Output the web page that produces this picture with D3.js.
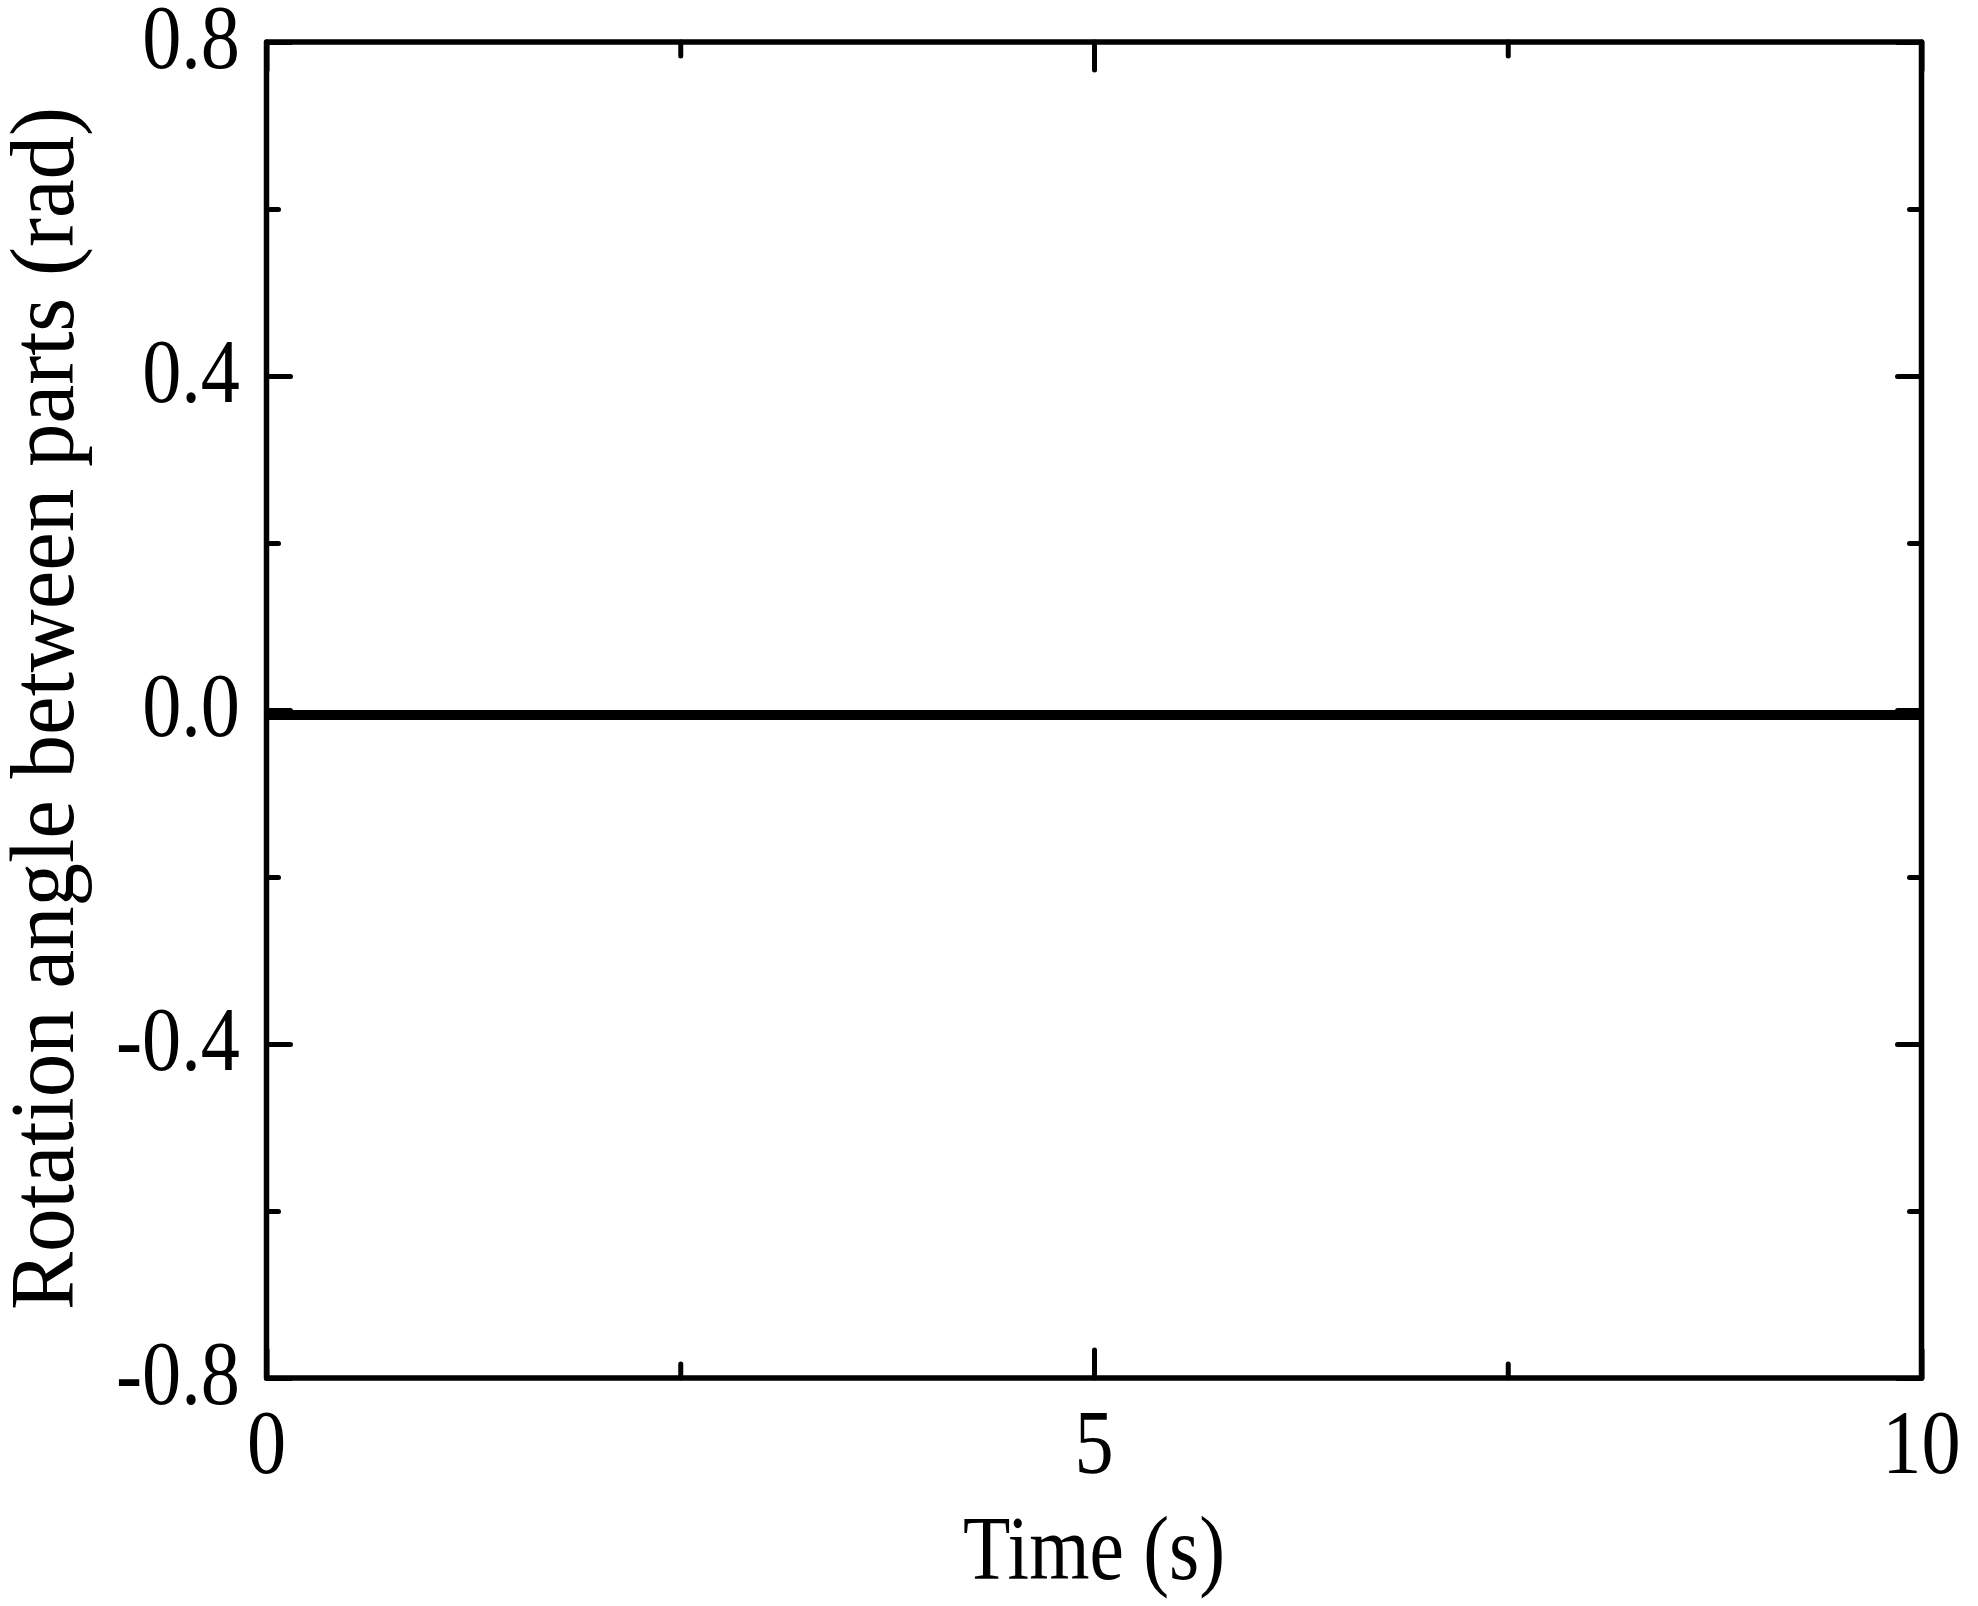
<!DOCTYPE html>
<html>
<head>
<meta charset="utf-8">
<script src="https://cdn.jsdelivr.net/npm/d3@7"></script>
<style>
  html, body { margin: 0; padding: 0; background: #fff; }
  svg { display: block; }
  text { font-family: "Liberation Serif", "Times New Roman", serif; fill: #000; }
</style>
</head>
<body>
<svg id="chart" width="1978" height="1606"></svg>
<script>
// ---- data ----
const timeValues = [0, 1, 2, 3, 4, 5, 6, 7, 8, 9, 10];
const angleValues = [-0.006, -0.006, -0.006, -0.006, -0.006, -0.006, -0.006, -0.006, -0.006, -0.006, -0.006];
const xMajorTicks = [0, 5, 10];
const xMinorTicks = [2.5, 7.5];
const yMajorTicks = [-0.8, -0.4, 0.0, 0.4, 0.8];
const yMinorTicks = [-0.6, -0.2, 0.2, 0.6];
const yTickLabels = ["-0.8", "-0.4", "0.0", "0.4", "0.8"];
const xTickLabels = ["0", "5", "10"];
const xTitle = "Time (s)";
const yTitle = "Rotation angle between parts (rad)";

// ---- layout ----
const L = 266.5, R = 1921.5, T = 42, B = 1378;
const svg = d3.select("#chart");
const x = d3.scaleLinear().domain([0, 10]).range([L, R]);
const y = d3.scaleLinear().domain([-0.8, 0.8]).range([B, T]);
const axisW = 5.5;
const condense = 0.87;
const fontSize = 90;

function squeeze(sel, factor) {
  sel.each(function() {
    const len = this.getComputedTextLength();
    d3.select(this).attr("textLength", len * factor).attr("lengthAdjust", "spacingAndGlyphs");
  });
}

// data line
const line = d3.line().x((d, i) => x(timeValues[i])).y(d => y(d));
svg.append("path")
  .datum(angleValues)
  .attr("d", line)
  .attr("fill", "none")
  .attr("stroke", "#000")
  .attr("stroke-width", 10);

// axes with inward ticks via d3 axis generators
function styleAxis(g) {
  g.select(".domain").remove();
  g.selectAll(".tick line").attr("stroke", "#000").attr("stroke-width", 5).attr("stroke-linecap", "round");
  g.selectAll(".tick text").remove();
}
// bottom
svg.append("g").attr("transform", `translate(0,${B})`)
  .call(d3.axisBottom(x).tickValues(xMajorTicks).tickSizeInner(-28).tickSizeOuter(0)).call(styleAxis);
svg.append("g").attr("transform", `translate(0,${B})`)
  .call(d3.axisBottom(x).tickValues(xMinorTicks).tickSizeInner(-14).tickSizeOuter(0)).call(styleAxis);
// top
svg.append("g").attr("transform", `translate(0,${T})`)
  .call(d3.axisTop(x).tickValues(xMajorTicks).tickSizeInner(-28).tickSizeOuter(0)).call(styleAxis);
svg.append("g").attr("transform", `translate(0,${T})`)
  .call(d3.axisTop(x).tickValues(xMinorTicks).tickSizeInner(-14).tickSizeOuter(0)).call(styleAxis);
// left
svg.append("g").attr("transform", `translate(${L},0)`)
  .call(d3.axisLeft(y).tickValues(yMajorTicks).tickSizeInner(-24).tickSizeOuter(0)).call(styleAxis);
svg.append("g").attr("transform", `translate(${L},0)`)
  .call(d3.axisLeft(y).tickValues(yMinorTicks).tickSizeInner(-12).tickSizeOuter(0)).call(styleAxis);
// right
svg.append("g").attr("transform", `translate(${R},0)`)
  .call(d3.axisRight(y).tickValues(yMajorTicks).tickSizeInner(-24).tickSizeOuter(0)).call(styleAxis);
svg.append("g").attr("transform", `translate(${R},0)`)
  .call(d3.axisRight(y).tickValues(yMinorTicks).tickSizeInner(-12).tickSizeOuter(0)).call(styleAxis);

// frame
svg.append("rect")
  .attr("x", L).attr("y", T).attr("width", R - L).attr("height", B - T)
  .attr("fill", "none").attr("stroke", "#000").attr("stroke-width", axisW)
  .attr("stroke-linejoin", "round");

// tick labels
svg.append("g").selectAll("text").data(yMajorTicks).join("text")
  .attr("x", 240).attr("y", d => y(d) + 26)
  .attr("text-anchor", "end").attr("font-size", fontSize)
  .text((d, i) => yTickLabels[i])
  .call(squeeze, condense);

svg.append("g").selectAll("text").data(xMajorTicks).join("text")
  .attr("x", d => x(d)).attr("y", 1473)
  .attr("text-anchor", "middle").attr("font-size", fontSize)
  .text((d, i) => xTickLabels[i])
  .call(squeeze, condense);

// titles
svg.append("text")
  .attr("x", (L + R) / 2).attr("y", 1579)
  .attr("text-anchor", "middle").attr("font-size", fontSize)
  .text(xTitle)
  .attr("textLength", 262).attr("lengthAdjust", "spacingAndGlyphs");

svg.append("text")
  .attr("transform", `translate(73,${(107 + 1310) / 2}) rotate(-90)`)
  .attr("text-anchor", "middle").attr("font-size", fontSize)
  .text(yTitle)
  .attr("textLength", 1203).attr("lengthAdjust", "spacingAndGlyphs");
</script>
</body>
</html>
